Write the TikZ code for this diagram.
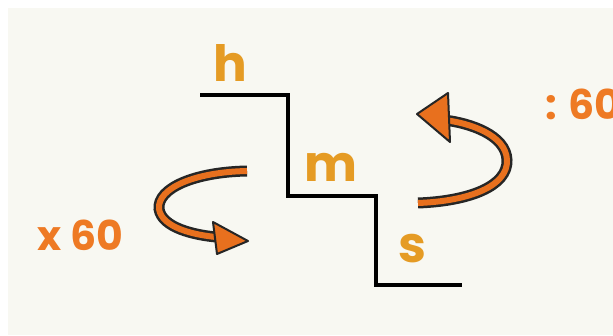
\documentclass[tikz,border=0pt]{standalone}
\usepackage{fontspec}
\setmainfont{Poppins}
\definecolor{bgc}{HTML}{F8F8F2}
\definecolor{gold}{HTML}{E59B24}
\definecolor{org}{HTML}{EE7A24}
\definecolor{arr}{HTML}{E8701E}
\tikzset{
  stair/.style={line width=4pt, line join=miter},
  letter/.style={text=gold, font=\fontsize{50}{50}\selectfont\bfseries, anchor=base, inner sep=0pt},
  factor/.style={text=org, font=\fontsize{41}{41}\selectfont\bfseries, anchor=base west, inner sep=0pt},
  shaftout/.style={line width=11pt, black!85},
  shaftin/.style={line width=6pt, arr},
  head/.style={fill=arr, draw=black!85, line width=2pt, line join=round}
}
\begin{document}
\begin{tikzpicture}[x=1pt,y=-1pt]
\fill[white] (0,0) rectangle (613,335);
\fill[bgc] (8,8) rectangle (613,335);
\useasboundingbox (0,0) rectangle (613,335);
% stairs
\coordinate (s0) at (200,95);
\coordinate (s1) at (288,95);
\coordinate (s2) at (288,196);
\coordinate (s3) at (376,196);
\coordinate (s4) at (376,285);
\coordinate (s5) at (462,285);
\draw[stair] (s0) -- (s1) -- (s2) -- (s3) -- (s4) -- (s5);
% letters
\node[letter] (h) at (230,81) {h};
\node[letter] (m) at (331,181) {m};
\node[letter] (s) at (412,262) {s};
\node[factor] (x60) at (37,250) {x 60};
\node[factor] (d60) at (545,119) {: 60};
% left arrow
\coordinate (la) at (247,171);
\coordinate (lb) at (159,209);
\coordinate (lc) at (216,237);
\draw[shaftout] (la) .. controls (195,172) and (157,188) .. (lb) .. controls (162,228) and (195,235) .. (lc);
\draw[shaftin] (la) .. controls (195,172) and (157,188) .. (lb) .. controls (162,228) and (195,235) .. (lc);
\draw[head] (213,222) -- (248,241) -- (217,254) -- cycle;
% right arrow
\coordinate (ra) at (418,203);
\coordinate (rb) at (507,160);
\coordinate (rc) at (444,120);
\draw[shaftout] (ra) .. controls (470,201) and (508,186) .. (rb) .. controls (506,135) and (470,123) .. (rc);
\draw[shaftin] (ra) .. controls (470,201) and (508,186) .. (rb) .. controls (506,135) and (470,123) .. (rc);
\draw[head] (448,93) -- (417,114) -- (450,142) -- cycle;
\end{tikzpicture}
\end{document}
